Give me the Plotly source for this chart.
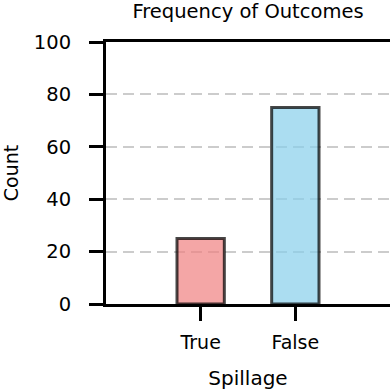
import plotly.graph_objects as go

# data
categories = ["True", "False"]
counts = [25, 75]
bar_colors = ["rgba(240,128,128,0.7)", "rgba(135,206,235,0.7)"]

FONT = "DejaVu Sans, sans-serif"

fig = go.Figure()
fig.add_trace(go.Bar(
    x=categories, y=counts,
    width=0.5,
    marker=dict(color=bar_colors, line=dict(color="rgba(0,0,0,0.72)", width=3)),
))

fig.update_layout(
    width=390, height=390,
    margin=dict(l=106, r=0, t=42, b=86),
    paper_bgcolor="white",
    plot_bgcolor="white",
    font=dict(family=FONT, size=20, color="black"),
    showlegend=False,
    title=dict(text="Frequency of Outcomes", x=248 / 390, xanchor="center",
               y=1 - 11.5 / 390, yanchor="middle", font=dict(size=19.5)),
)
fig.update_xaxes(
    range=[-1, 2],
    showline=True, linecolor="black", linewidth=3, mirror=True,
    ticks="outside", ticklen=14, tickwidth=3, tickcolor="black",
    tickfont=dict(size=19), ticklabelstandoff=5,
    title=dict(text="Spillage", font=dict(size=20), standoff=20),
    showgrid=False,
)
fig.update_yaxes(
    range=[0, 100], tickvals=[0, 20, 40, 60, 80, 100],
    showline=True, linecolor="black", linewidth=3,
    ticks="outside", ticklen=14, tickwidth=3, tickcolor="black",
    tickfont=dict(size=19.5), ticklabelstandoff=14,
    title=dict(text="Count", font=dict(size=19), standoff=21),
    showgrid=True, gridcolor="#cccccc", gridwidth=2, griddash="11px,6px",
    zeroline=False,
)

fig.write_html("out.html", config={"displayModeBar": False},
               post_script="document.body.style.margin='0';")
